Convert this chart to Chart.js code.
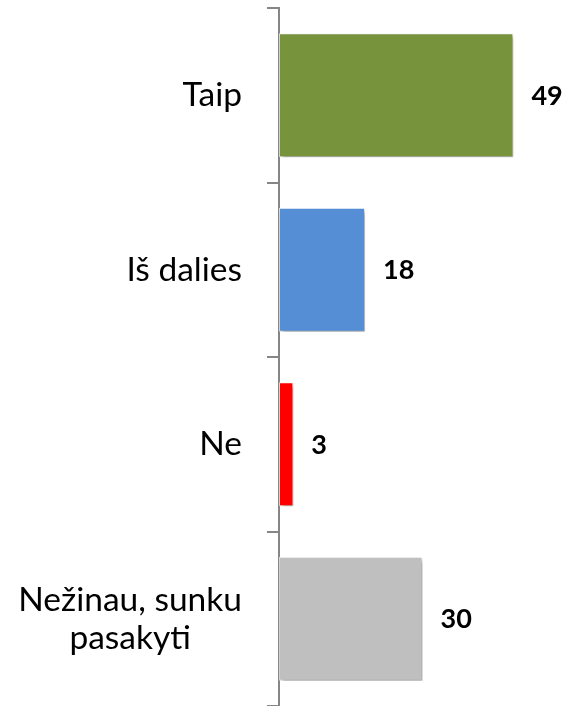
<!DOCTYPE html>
<html>
<head>
    <meta charset="utf-8">
    <title>Taip / Iš dalies / Ne</title>
    <script src="https://cdn.jsdelivr.net/npm/chart.js"></script>
</head>
<body style="margin: 0; background-color: #ffffff;">
    <canvas id="myChart" width="566" height="706"></canvas>

    <script>
        // Chart data
        var categories = ['Taip', 'Iš dalies', 'Ne', ['Nežinau, sunku', 'pasakyti']];
        var values = [49, 18, 3, 30];
        var barColors = ['#77933C', '#558ED5', '#FF0000', '#BFBFBF'];
        var axisMin = 0;
        var axisMax = 60;

        var axisColor = '#868686';

        // Soft shadow behind the bars
        var shadowPlugin = {
            id: 'barShadow',
            beforeDatasetsDraw: function (chart) {
                var c = chart.ctx;
                c.save();
                c.shadowColor = 'rgba(0, 0, 0, 0.35)';
                c.shadowBlur = 4;
                c.shadowOffsetX = 2;
                c.shadowOffsetY = 3;
            },
            afterDatasetsDraw: function (chart) {
                chart.ctx.restore();
            }
        };

        // Category labels (right aligned, multi-line centred) and value labels
        var labelPlugin = {
            id: 'labels',
            afterDraw: function (chart) {
                var c = chart.ctx;
                var yScale = chart.scales.y;
                var meta = chart.getDatasetMeta(0);
                c.save();
                c.fillStyle = '#000000';
                c.textBaseline = 'middle';

                // category labels
                c.font = '33.5px Lato';
                var rightEdge = chart.chartArea.left - 37;
                categories.forEach(function (label, i) {
                    var y = yScale.getPixelForTick(i);
                    if (Array.isArray(label)) {
                        var widest = 0;
                        label.forEach(function (line) {
                            widest = Math.max(widest, c.measureText(line).width);
                        });
                        c.textAlign = 'center';
                        var lineHeight = 38;
                        var startY = y - (label.length - 1) * lineHeight / 2;
                        label.forEach(function (line, j) {
                            c.fillText(line, rightEdge - widest / 2, startY + j * lineHeight);
                        });
                    } else {
                        c.textAlign = 'right';
                        c.fillText(label, rightEdge, y);
                    }
                });

                // value labels
                c.font = 'bold 27px Lato';
                c.textAlign = 'left';
                meta.data.forEach(function (bar, i) {
                    c.fillText(values[i], bar.x + 18, bar.y + 1);
                });
                c.restore();
            }
        };

        var ctx = document.getElementById('myChart').getContext('2d');
        var myChart = new Chart(ctx, {
            type: 'bar',
            data: {
                labels: categories,
                datasets: [{
                    data: values,
                    backgroundColor: barColors,
                    borderColor: 'rgba(255, 255, 255, 0.7)',
                    borderWidth: 1,
                    borderSkipped: false,
                    barPercentage: 0.71,
                    categoryPercentage: 1
                }]
            },
            options: {
                responsive: false,
                animation: false,
                indexAxis: 'y',
                layout: {
                    padding: { top: 8, left: 0, right: 0, bottom: 0 }
                },
                plugins: {
                    legend: { display: false },
                    tooltip: { enabled: false }
                },
                scales: {
                    x: {
                        display: false,
                        min: axisMin,
                        max: axisMax
                    },
                    y: {
                        grid: {
                            offset: true,
                            drawOnChartArea: false,
                            drawTicks: true,
                            tickLength: 12,
                            color: axisColor,
                            lineWidth: 2
                        },
                        border: {
                            display: true,
                            color: axisColor,
                            width: 2
                        },
                        ticks: { display: false },
                        afterFit: function (scale) {
                            scale.width = 279;
                        }
                    }
                }
            },
            plugins: [shadowPlugin, labelPlugin]
        });
    </script>
</body>
</html>
